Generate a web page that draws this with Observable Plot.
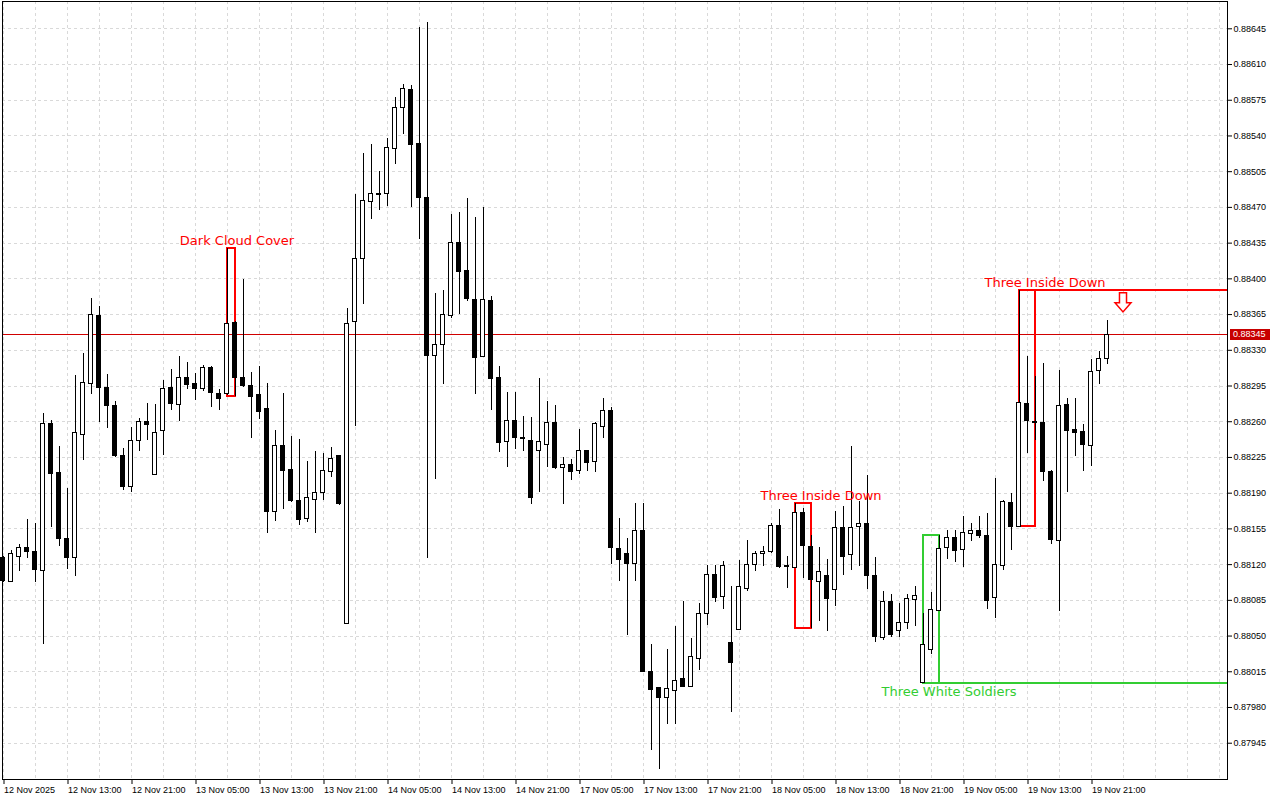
<!DOCTYPE html>
<html><head><meta charset="utf-8">
<script src="https://cdn.jsdelivr.net/npm/d3@7"></script>
<script src="https://cdn.jsdelivr.net/npm/@observablehq/plot@0.6"></script>
<style>html,body{margin:0;padding:0;background:#fff;} #chart svg{display:block}</style>
</head><body><div id="chart"></div>
<script>
// Hourly candles, 12 Nov 2025 05:00 -> 19 Nov 2025 23:00 (bar index 0..138)
const open = [
0.88126,0.88103,0.88127,0.88136,0.88132,0.88114,0.88258,0.88210,0.88145,0.88126,
0.88247,0.88297,0.88364,0.88293,0.88275,0.88226,0.88196,0.88241,0.88260,0.88208,
0.88251,0.88293,0.88276,0.88303,0.88297,0.88292,0.88313,0.88287,0.88287,0.88357,
0.88303,0.88295,0.88286,0.88272,0.88172,0.88236,0.88213,0.88182,0.88165,0.88183,
0.88190,0.88211,0.88226,0.88062,0.88358,0.88419,0.88475,0.88483,0.88483,0.88527,
0.88567,0.88585,0.88532,0.88479,0.88324,0.88335,0.88364,0.88435,0.88408,0.88379,
0.88323,0.88378,0.88303,0.88240,0.88261,0.88244,0.88241,0.88231,0.88237,0.88259,
0.88215,0.88218,0.88212,0.88231,0.88221,0.88255,0.88271,0.88135,0.88130,0.88121,
0.88153,0.88015,0.87999,0.87989,0.87996,0.88008,0.88000,0.88028,0.88072,0.88110,
0.88088,0.88043,0.88056,0.88096,0.88120,0.88130,0.88132,0.88158,0.88119,0.88117,
0.88171,0.88137,0.88103,0.88109,0.88095,0.88156,0.88129,0.88157,0.88160,0.88109,
0.88048,0.88083,0.88055,0.88063,0.88085,0.88004,0.88036,0.88075,0.88136,0.88146,
0.88134,0.88150,0.88153,0.88148,0.88087,0.88119,0.88180,0.88157,0.88277,0.88260,
0.88259,0.88211,0.88143,0.88276,0.88252,0.88250,0.88236,0.88310,0.88321];
const high = [
0.88128,0.88134,0.88140,0.88164,0.88160,0.88268,0.88261,0.88236,0.88195,0.88305,
0.88327,0.88381,0.88373,0.88306,0.88280,0.88234,0.88254,0.88263,0.88278,0.88277,
0.88300,0.88311,0.88324,0.88318,0.88307,0.88315,0.88314,0.88292,0.88430,0.88358,
0.88399,0.88308,0.88314,0.88297,0.88251,0.88288,0.88246,0.88243,0.88221,0.88231,
0.88229,0.88235,0.88227,0.88371,0.88483,0.88523,0.88532,0.88505,0.88538,0.88578,
0.88590,0.88589,0.88646,0.88651,0.88386,0.88389,0.88463,0.88465,0.88479,0.88460,
0.88470,0.88383,0.88314,0.88289,0.88289,0.88265,0.88264,0.88302,0.88280,0.88276,
0.88225,0.88223,0.88252,0.88232,0.88259,0.88283,0.88274,0.88165,0.88146,0.88180,
0.88180,0.88042,0.88000,0.88037,0.88059,0.88084,0.88048,0.88082,0.88119,0.88119,
0.88123,0.88099,0.88124,0.88144,0.88133,0.88138,0.88160,0.88174,0.88128,0.88180,
0.88175,0.88149,0.88137,0.88125,0.88172,0.88177,0.88236,0.88182,0.88207,0.88127,
0.88094,0.88091,0.88082,0.88091,0.88099,0.88072,0.88093,0.88149,0.88153,0.88153,
0.88167,0.88160,0.88167,0.88170,0.88204,0.88183,0.88190,0.88389,0.88324,0.88304,
0.88317,0.88212,0.88310,0.88283,0.88283,0.88257,0.88321,0.88329,0.88359];
const low = [
0.88102,0.88102,0.88113,0.88126,0.88102,0.88042,0.88156,0.88138,0.88115,0.88108,
0.88222,0.88287,0.88259,0.88253,0.88225,0.88193,0.88191,0.88231,0.88242,0.88208,
0.88227,0.88271,0.88260,0.88292,0.88281,0.88290,0.88274,0.88271,0.88286,0.88285,
0.88294,0.88244,0.88262,0.88150,0.88162,0.88174,0.88181,0.88158,0.88161,0.88150,
0.88183,0.88205,0.88178,0.88061,0.88255,0.88375,0.88458,0.88467,0.88471,0.88512,
0.88541,0.88470,0.88439,0.88126,0.88203,0.88296,0.88361,0.88365,0.88378,0.88287,
0.88323,0.88271,0.88230,0.88215,0.88233,0.88231,0.88179,0.88191,0.88215,0.88213,
0.88179,0.88202,0.88208,0.88211,0.88210,0.88244,0.88120,0.88103,0.88051,0.88103,
0.88015,0.87938,0.87919,0.87963,0.87963,0.88000,0.88000,0.88016,0.88060,0.88083,
0.88076,0.87975,0.88056,0.88094,0.88113,0.88118,0.88131,0.88116,0.88097,0.88117,
0.88106,0.88057,0.88064,0.88054,0.88079,0.88109,0.88114,0.88118,0.88096,0.88044,
0.88046,0.88049,0.88049,0.88056,0.88059,0.88004,0.88032,0.88075,0.88125,0.88122,
0.88117,0.88143,0.88146,0.88076,0.88067,0.88114,0.88134,0.88157,0.88229,0.88242,
0.88201,0.88140,0.88074,0.88191,0.88226,0.88211,0.88216,0.88296,0.88316];
const close = [
0.88104,0.88130,0.88136,0.88132,0.88115,0.88258,0.88209,0.88145,0.88126,0.88249,
0.88298,0.88365,0.88293,0.88275,0.88226,0.88196,0.88241,0.88260,0.88257,0.88249,
0.88292,0.88277,0.88303,0.88296,0.88292,0.88313,0.88288,0.88282,0.88356,0.88303,
0.88295,0.88284,0.88270,0.88172,0.88236,0.88212,0.88182,0.88164,0.88185,0.88190,
0.88212,0.88223,0.88179,0.88356,0.88419,0.88476,0.88483,0.88482,0.88528,0.88567,
0.88586,0.88531,0.88479,0.88324,0.88335,0.88365,0.88435,0.88407,0.88380,0.88322,
0.88379,0.88302,0.88239,0.88261,0.88244,0.88243,0.88185,0.88240,0.88259,0.88215,
0.88218,0.88211,0.88231,0.88220,0.88258,0.88271,0.88136,0.88125,0.88121,0.88153,
0.88015,0.87997,0.87989,0.87998,0.88006,0.88000,0.88029,0.88072,0.88110,0.88087,
0.88119,0.88024,0.88098,0.88120,0.88130,0.88132,0.88158,0.88118,0.88118,0.88171,
0.88138,0.88105,0.88113,0.88086,0.88156,0.88127,0.88156,0.88160,0.88109,0.88049,
0.88083,0.88051,0.88063,0.88086,0.88089,0.88041,0.88076,0.88135,0.88146,0.88133,
0.88151,0.88153,0.88148,0.88084,0.88120,0.88181,0.88157,0.88278,0.88261,0.88259,
0.88211,0.88144,0.88275,0.88251,0.88249,0.88237,0.88309,0.88321,0.88345];

const timeTickBars = [0,8,16,24,32,40,48,56,64,72,80,88,96,104,112,120,128,136];
const timeLabels = ["12 Nov 2025","12 Nov 13:00","12 Nov 21:00","13 Nov 05:00","13 Nov 13:00",
  "13 Nov 21:00","14 Nov 05:00","14 Nov 13:00","14 Nov 21:00","17 Nov 05:00","17 Nov 13:00",
  "17 Nov 21:00","18 Nov 05:00","18 Nov 13:00","18 Nov 21:00","19 Nov 05:00","19 Nov 13:00","19 Nov 21:00"];
const priceTicks = [0.87945,0.87980,0.88015,0.88050,0.88085,0.88120,0.88155,0.88190,0.88225,0.88260,
  0.88295,0.88330,0.88365,0.88400,0.88435,0.88470,0.88505,0.88540,0.88575,0.88610,0.88645];

// candlestick patterns: first bar, last bar, range, colour, extended level, label bar
const patternNames = ["Dark Cloud Cover","Three Inside Down","Three White Soldiers","Three Inside Down"];
const patternFirst = [28, 99, 115, 127];
const patternLast  = [29, 101, 117, 129];
const patternHigh  = [0.88430, 0.88180, 0.88149, 0.88389];
const patternLow   = [0.88285, 0.88057, 0.88004, 0.88157];
const patternColor = ["#ff0000","#ff0000","#32cd32","#ff0000"];
const patternExtend = [null, null, "low", "high"];
const patternLabelBar = [29.25, 102.25, 118.25, 130.25];
const arrowBar = 140, arrowPrice = 0.88377;
const lastPrice = 0.88345;

const candles = open.map((o, i) => ({i, open: o, high: high[i], low: low[i], close: close[i]}));
const patterns = patternNames.map((name, k) => ({
  name, i1: patternFirst[k], i2: patternLast[k], high: patternHigh[k], low: patternLow[k],
  color: patternColor[k], ext: patternExtend[k], lx: patternLabelBar[k],
  bull: patternExtend[k] === "low"
}));
const labelByBar = new Map(timeTickBars.map((b, k) => [b, timeLabels[k]]));
const X_DOMAIN = [-0.0625, 153.0625];
const gridBars = d3.range(0, 153, 4);

// hollow down-arrow symbol (MT4 style arrow object)
const downArrow = {
  draw(ctx, size) {
    const r = Math.sqrt(size / Math.PI);
    ctx.moveTo(-0.44 * r, -1.2 * r);
    ctx.lineTo(0.44 * r, -1.2 * r);
    ctx.lineTo(0.44 * r, 0.05 * r);
    ctx.lineTo(r, 0.05 * r);
    ctx.lineTo(0, 1.2 * r);
    ctx.lineTo(-r, 0.05 * r);
    ctx.lineTo(-0.44 * r, 0.05 * r);
    ctx.closePath();
  }
};

const chart = Plot.plot({
  width: 1280, height: 800,
  marginLeft: 2, marginRight: 53, marginTop: 1, marginBottom: 21,
  x: {type: "linear", domain: X_DOMAIN, label: null},
  y: {domain: [0.8790945, 0.8867175], label: null},
  style: {fontFamily: "Liberation Sans", fontSize: "9px", background: "white", color: "black"},
  marks: [
    Plot.gridY(priceTicks, {stroke: "#d9d9d9", strokeOpacity: 1, strokeDasharray: "3,3", shapeRendering: "crispEdges"}),
    Plot.gridX(gridBars, {stroke: "#d9d9d9", strokeOpacity: 1, strokeDasharray: "3,3", shapeRendering: "crispEdges"}),
    Plot.ruleY([lastPrice], {stroke: "#d00000", strokeWidth: 1, shapeRendering: "crispEdges"}),
    Plot.rect(patterns, {x1: "i1", x2: "i2", y1: "low", y2: "high", stroke: "color", fill: "none", strokeWidth: 2, shapeRendering: "crispEdges"}),
    Plot.ruleY(patterns.filter(p => p.ext), {
      y: p => p.ext === "high" ? p.high : p.low, x1: "i1", x2: () => X_DOMAIN[1],
      stroke: "color", strokeWidth: 2, shapeRendering: "crispEdges"}),
    Plot.ruleX(candles, {x: "i", y1: "low", y2: "high", stroke: "black", strokeWidth: 1, shapeRendering: "crispEdges"}),
    Plot.rect(candles, {
      x1: d => d.i - 0.25, x2: d => d.i + 0.25, y1: "open", y2: "close",
      fill: d => d.close > d.open ? "white" : "black", stroke: "black", strokeWidth: 1, shapeRendering: "crispEdges"}),
    Plot.text(patterns, {
      x: "lx", y: p => p.bull ? p.low : p.high, text: "name",
      fill: "color", fontSize: 13, fontFamily: "DejaVu Sans"}),
    Plot.dot([{bar: arrowBar, price: arrowPrice}], {x: "bar", y: "price", symbol: downArrow, r: 8,
      fill: "white", stroke: "#ff0000", strokeWidth: 1.5}),
    Plot.frame({stroke: "black", shapeRendering: "crispEdges"}),
    Plot.axisY({ticks: priceTicks, anchor: "right", tickSize: 4, tickPadding: 2,
      tickFormat: d => d.toFixed(5), fontSize: 9}),
    Plot.axisX({ticks: timeTickBars, anchor: "bottom", tickSize: 5, tickPadding: 2,
      tickFormat: d => labelByBar.get(d), textAnchor: "start", dx: 1, fontSize: 9})
  ]
});

// shift pattern labels above / below their levels
d3.select(chart).selectAll("text").filter(function(){ return /Three|Dark/.test(this.textContent); })
  .each(function(){
    const below = this.textContent === "Three White Soldiers";
    d3.select(this).attr("dy", below ? "0.7em" : "-0.58em");
  });

// current price label on the right axis
const yy = chart.scale("y").apply(lastPrice);
const xr = 1280 - 53;
const g = d3.select(chart).append("g");
g.append("rect").attr("x", xr + 3).attr("y", Math.round(yy) - 5).attr("width", 40).attr("height", 11).attr("fill", "#c80000");
g.append("text").attr("x", xr + 6).attr("y", yy).attr("dy", "0.32em").attr("fill", "white")
  .attr("text-anchor", "start")
  .attr("font-family", "Liberation Sans").attr("font-size", 9).text(lastPrice.toFixed(5));

document.getElementById("chart").appendChild(chart);
</script>
</body></html>
